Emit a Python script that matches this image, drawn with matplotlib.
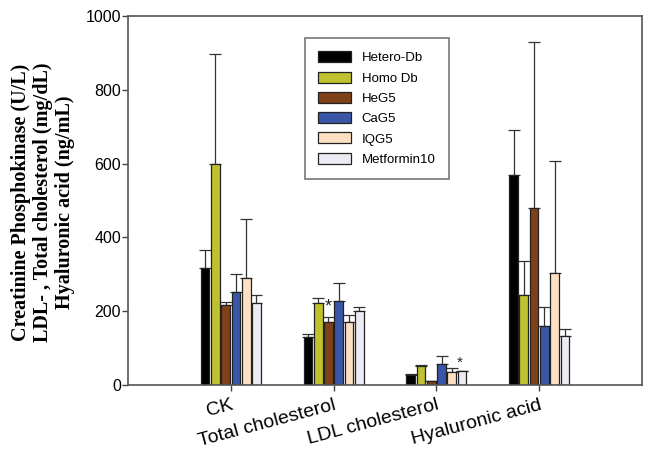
import numpy as np
import matplotlib
matplotlib.use("Agg")
import matplotlib.pyplot as plt

categories = ["CK", "Total cholesterol", "LDL cholesterol", "Hyaluronic acid"]
series = ["Hetero-Db", "Homo Db", "HeG5", "CaG5", "IQG5", "Metformin10"]
colors = ["#000000", "#bfc22f", "#7f4218", "#3a56a6", "#fde0c3", "#ecebf3"]

hetero_db = [316, 131, 27, 569]
homo_db = [600, 222, 51, 244]
heg5 = [217, 170, 11, 481]
cag5 = [251, 228, 56, 161]
iqg5 = [289, 170, 36, 303]
metformin10 = [223, 200, 37, 133]

hetero_db_top = [366, 138, 29, 691]
homo_db_top = [896, 236, 54, 336]
heg5_top = [224, 184, 12, 930]
cag5_top = [301, 277, 79, 211]
iqg5_top = [451, 189, 47, 606]
metformin10_top = [243, 211, 39, 153]

values = [hetero_db, homo_db, heg5, cag5, iqg5, metformin10]
tops = [hetero_db_top, homo_db_top, heg5_top, cag5_top, iqg5_top, metformin10_top]

yticks = [0, 200, 400, 600, 800, 1000]
ylabel = "Creatinine Phosphokinase (U/L)\nLDL- , Total cholesterol (mg/dL)\nHyaluronic acid (ng/mL)"

plt.rcParams['font.family'] = ['Liberation Sans', 'DejaVu Sans']

fig = plt.figure(figsize=(6.54, 4.59), dpi=100)
ax = fig.add_axes([0.1957, 0.1612, 0.786, 0.8039])

x = np.arange(1, len(categories) + 1)
pitch = 0.1
width = 0.085
for i, (name, vals, tp, c) in enumerate(zip(series, values, tops, colors)):
    pos = x + (i - 2.5) * pitch
    vals = np.array(vals)
    err = np.array(tp) - vals
    ax.bar(pos, vals, width=width, color=c, edgecolor="#222222", linewidth=0.9,
           label=name, zorder=2)
    ax.errorbar(pos, vals, yerr=[np.zeros_like(err), err], fmt="none",
                ecolor="#333333", elinewidth=0.9, capsize=4.3, capthick=0.9, zorder=1)

# significance marks
ax.text(x[1] - 0.5 * pitch, 188, "*", ha="center", va="bottom", fontsize=13, color="#222222")
ax.text(x[2] + 2.3 * pitch, 40, "*", ha="center", va="bottom", fontsize=11, color="#222222")

ax.set_xlim(0, 5)
ax.set_ylim(0, 1000)
ax.set_yticks(yticks)
ax.set_yticklabels([str(v) for v in yticks], fontsize=11.5)
ax.set_xticks(x)
ax.set_xticklabels(categories, fontsize=14, rotation=15, ha="right",
                   rotation_mode="anchor")
ax.tick_params(axis="both", direction="out", length=4.5, width=1, color="#444444")
ax.tick_params(axis="y", pad=0.5)
ax.tick_params(axis="x", pad=4)
for s in ax.spines.values():
    s.set_color("#555555")
    s.set_linewidth(1.2)

fig.text(0.066, 0.56, ylabel, rotation=90, ha="center", va="center",
         family=["Liberation Serif", "DejaVu Serif"], fontweight="bold", fontsize=14.5,
         linespacing=1.15)

leg = ax.legend(loc="upper left", bbox_to_anchor=(0.344, 0.94), fontsize=9.5,
                frameon=True, fancybox=False, edgecolor="#555555",
                handlelength=2.5, handleheight=0.9, labelspacing=0.55,
                borderpad=1.0, handletextpad=0.8, borderaxespad=0)
leg.get_frame().set_linewidth(1.2)

fig.savefig("out.png", dpi=100)
